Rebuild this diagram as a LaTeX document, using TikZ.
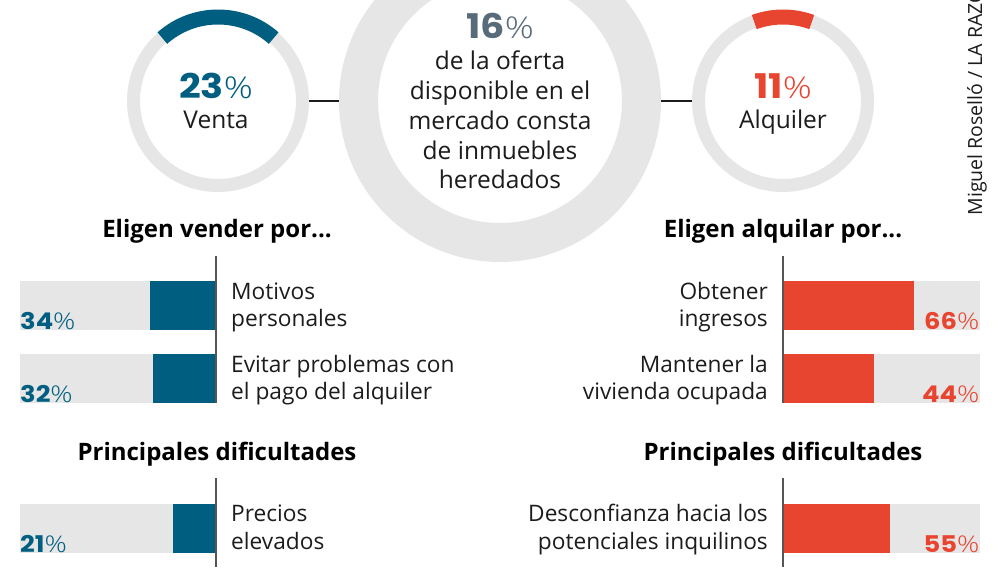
\documentclass[tikz,border=0pt]{standalone}
\usepackage{fontspec}
\setmainfont{Open Sans}
\newfontfamily\lightf{Open Sans Light}[FakeStretch=1.2]
\newfontfamily\heavyf{Poppins}[BoldFont=* Bold,FakeStretch=1.12]
\definecolor{blu}{HTML}{005F80}
\definecolor{rd}{HTML}{E84530}
\definecolor{slate}{HTML}{586B7B}
\definecolor{gry}{HTML}{E6E6E6}
\definecolor{ink}{HTML}{1C1C1C}
\definecolor{axisc}{HTML}{555555}
\newcommand{\pctm}[3]{{\color{#1}{\fontsize{#3}{#3}\selectfont\heavyf\bfseries #2}{\lightf\%}}}
\tikzset{
  x=1pt,y=-1pt,
  ring/.style={circle,draw=gry,inner sep=0pt,outer sep=auto,fill=none},
  lbl/.style={anchor=base,font=\fontsize{22.7}{24}\selectfont,text=ink,inner sep=0pt},
  ringlbl/.style={lbl,font=\fontsize{24.5}{26}\selectfont},
  lefttxt/.style={lbl,anchor=base west},
  righttxt/.style={lbl,anchor=base east},
  head/.style={anchor=base,font=\fontsize{24}{26}\selectfont\bfseries,text=black,inner sep=0pt},
  big/.style={anchor=base,font=\fontsize{30}{32}\selectfont,inner sep=0pt},
  pct/.style={font=\fontsize{23}{24}\selectfont,inner sep=0pt},
  axisl/.style={draw=axisc,line width=1.6pt},
  conn/.style={draw=ink,line width=1.1pt},
}
\begin{document}
\begin{tikzpicture}
\clip (0,0) rectangle (1000,567);
\fill[white] (0,0) rectangle (1000,567);
% rings
\node[ring,line width=13pt,minimum size=169pt] (venta) at (218,101) {};
\node[ring,line width=13pt,minimum size=169pt] (alq) at (783,101) {};
\node[ring,line width=39pt,minimum size=283pt] (oferta) at (500,101) {};
\draw[conn] (venta.east) -- (oferta.west);
\draw[conn] (oferta.east) -- (alq.west);
\draw[blu,line width=15pt] (218,101) ++(48.5:84pt) arc[start angle=48.5,end angle=131.5,radius=84pt];
\draw[rd,line width=15pt] (783,101) ++(70:84pt) arc[start angle=70,end angle=110,radius=84pt];
% ring text
\node[big] (p23) at (216,99) {\pctm{blu}{23}{34}};
\node[ringlbl] (tventa) at (216,128.5) {Venta};
\node[big] (p11) at (783,99) {\pctm{rd}{11}{34}};
\node[ringlbl] (talq) at (783,128.5) {Alquiler};
\node[big] (p16) at (500,39) {\pctm{slate}{16}{34}};
\node[ringlbl] (o1) at (500,69.5) {de la oferta};
\node[ringlbl] (o2) at (500,99.5) {disponible en el};
\node[ringlbl] (o3) at (500,129) {mercado consta};
\node[ringlbl] (o4) at (500,159) {de inmuebles};
\node[ringlbl] (o5) at (500,188.5) {heredados};
% credit
\node[anchor=base west,rotate=90,font=\fontsize{19.5}{20}\selectfont,text=ink,inner sep=0pt] (credit) at (982,215.5) {Miguel Roselló / LA RAZÓN};
% headings
\node[head] (h1) at (217,237) {Eligen vender por...};
\node[head] (h2) at (783,237) {Eligen alquilar por...};
\node[head] (h3) at (217,460.5) {Principales dificultades};
\node[head] (h4) at (783,460.5) {Principales dificultades};
% left bars
\fill[gry] (20,281) rectangle (216,330);
\fill[blu] (150,281) rectangle (216,330);
\fill[gry] (20,354) rectangle (216,403);
\fill[blu] (153,354) rectangle (216,403);
\fill[gry] (20,504) rectangle (216,553);
\fill[blu] (172.5,504) rectangle (216,553);
% right bars
\fill[gry] (783,281) rectangle (980,330);
\fill[rd] (783,281) rectangle (913.5,330);
\fill[gry] (783,354) rectangle (980,403);
\fill[rd] (783,354) rectangle (874,403);
\fill[gry] (783,504) rectangle (980,553);
\fill[rd] (783,504) rectangle (890,553);
% axes
\coordinate (a1t) at (216,256); \coordinate (a1b) at (216,403);
\coordinate (a2t) at (783,256); \coordinate (a2b) at (783,403);
\coordinate (a3t) at (216,478); \coordinate (a3b) at (216,567);
\coordinate (a4t) at (783,478); \coordinate (a4b) at (783,567);
\draw[axisl] (a1t) -- (a1b);
\draw[axisl] (a2t) -- (a2b);
\draw[axisl] (a3t) -- (a3b);
\draw[axisl] (a4t) -- (a4b);
% percentages
\node[pct,anchor=base west] (l1) at (20,329) {\pctm{blu}{34}{23}};
\node[pct,anchor=base west] (l2) at (20,402) {\pctm{blu}{32}{23}};
\node[pct,anchor=base west] (l3) at (20,552) {\pctm{blu}{21}{23}};
\node[pct,anchor=base east] (r1) at (979.5,329) {\pctm{rd}{66}{23}};
\node[pct,anchor=base east] (r2) at (979.5,402) {\pctm{rd}{44}{23}};
\node[pct,anchor=base east] (r3) at (979.5,552) {\pctm{rd}{55}{23}};
% labels
\node[lefttxt] (t1a) at (231,299) {Motivos};
\node[lefttxt] (t1b) at (231,326.5) {personales};
\node[lefttxt] (t2a) at (231,372) {Evitar problemas con};
\node[lefttxt] (t2b) at (231,399.5) {el pago del alquiler};
\node[lefttxt] (t3a) at (231,521.5) {Precios};
\node[lefttxt] (t3b) at (231,549) {elevados};
\node[righttxt] (t4a) at (768,299) {Obtener};
\node[righttxt] (t4b) at (768,326.5) {ingresos};
\node[righttxt] (t5a) at (768,372) {Mantener la};
\node[righttxt] (t5b) at (768,399.5) {vivienda ocupada};
\node[righttxt] (t6a) at (768,521.5) {Desconfianza hacia los};
\node[righttxt] (t6b) at (768,549) {potenciales inquilinos};
\end{tikzpicture}
\end{document}
